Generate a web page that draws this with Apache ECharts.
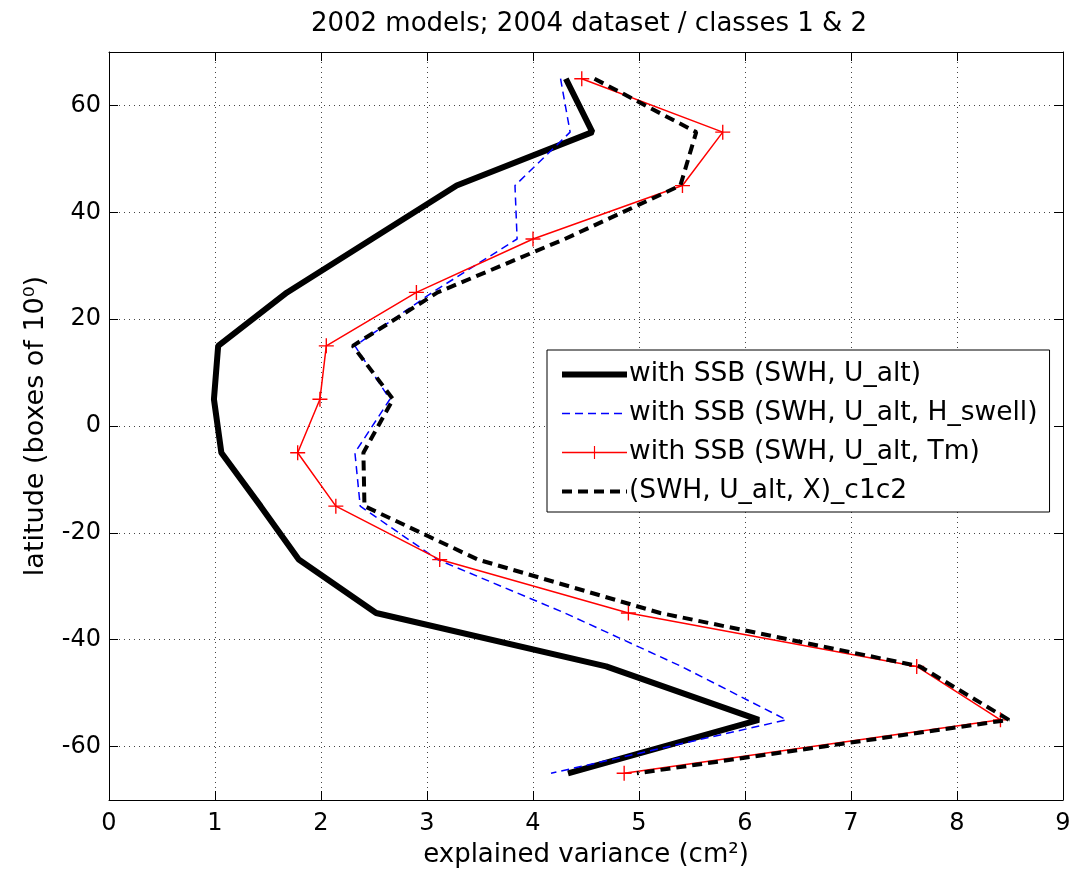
<!DOCTYPE html>
<html>
<head>
<meta charset="utf-8">
<script src="https://cdn.jsdelivr.net/npm/echarts@6/dist/echarts.min.js"></script>
<style>
html,body{margin:0;padding:0;background:#fff;}
#chart{width:1074px;height:885px;}
</style>
</head>
<body>
<div id="chart"></div>
<script>
// latitude box centres (deg)
const latitudes = [65, 55, 45, 35, 25, 15, 5, -5, -15, -25, -35, -45, -55, -65];
// explained variance (cm^2)
const ssbSwhU = [4.31, 4.56, 3.28, 2.48, 1.68, 1.03, 0.99, 1.06, 1.43, 1.79, 2.52, 4.69, 6.13, 4.33];
const ssbSwhUHswell = [4.26, 4.35, 3.83, 3.85, 3.05, 2.32, 2.65, 2.32, 2.37, 3.10, 4.30, 5.40, 6.39, 4.17];
const ssbSwhUTm = [4.46, 5.79, 5.41, 4.00, 2.90, 2.05, 1.99, 1.78, 2.14, 3.12, 4.90, 7.62, 8.41, 4.86];
const swhUXc1c2 = [4.58, 5.54, 5.39, 4.30, 3.10, 2.30, 2.68, 2.40, 2.41, 3.48, 5.20, 7.65, 8.49, 4.98];

const seriesNames = [
  'with SSB (SWH, U_alt)',
  'with SSB (SWH, U_alt, H_swell)',
  'with SSB (SWH, U_alt, Tm)',
  '(SWH, U_alt, X)_c1c2'
];
const titleText = '2002 models; 2004 dataset / classes 1 & 2';
const xName = 'explained variance (cm²)';
const yName = 'latitude (boxes of 10⁰)';

function pairs(vals) { return vals.map((v, i) => [v, latitudes[i]]); }

const FONT = 'DejaVu Sans, sans-serif';
const plusPath = 'path://M-0.9,-10L0.9,-10L0.9,-0.9L10,-0.9L10,0.9L0.9,0.9L0.9,10L-0.9,10L-0.9,0.9L-10,0.9L-10,-0.9L-0.9,-0.9Z';

const styles = [
  {color: '#000', width: 6, type: 'solid'},
  {color: '#0000ff', width: 1.5, type: [8, 5]},
  {color: '#ff0000', width: 1.5, type: 'solid'},
  {color: '#000', width: 4, type: [10, 6]}
];

const chart = echarts.init(document.getElementById('chart'), null, {renderer: 'canvas'});
const axisLine = {show: true, onZero: false, lineStyle: {color: '#000', width: 1}};
const tick = {show: true, inside: true, length: 9, lineStyle: {color: '#000'}};
const gridLine = {show: true, lineStyle: {color: '#444', type: [1, 4], width: 1}};

chart.setOption({
  animation: false,
  backgroundColor: '#fff',
  title: {
    text: titleText, left: 584, top: 6, textAlign: 'center',
    textStyle: {fontFamily: FONT, fontSize: 26, fontWeight: 'normal', color: '#000'}
  },
  grid: {left: 109, right: 11, top: 52, bottom: 85, containLabel: false},
  legend: {
    orient: 'vertical', left: 547, top: 350,
    padding: [11, 12, 7, 12],
    backgroundColor: '#fff', borderColor: '#000', borderWidth: 1,
    itemWidth: 65, itemHeight: 16, itemGap: 12,
    textStyle: {fontFamily: FONT, fontSize: 26.5, color: '#000', padding: [0, 0, 0, -3]},
    data: seriesNames.map((n, i) => ({
      name: n,
      lineStyle: styles[i],
      itemStyle: i === 2 ? {color: '#ff0000'} : {opacity: 0}
    }))
  },
  xAxis: [{
    type: 'value', min: 0, max: 9, interval: 1, position: 'bottom',
    name: xName, nameLocation: 'middle', nameGap: 42,
    nameTextStyle: {fontFamily: FONT, fontSize: 26, color: '#000'},
    axisLine: axisLine, axisTick: tick,
    axisLabel: {fontFamily: FONT, fontSize: 24, color: '#000', margin: 12},
    splitLine: gridLine
  }, {
    type: 'value', min: 0, max: 9, interval: 1, position: 'top',
    axisLine: axisLine, axisTick: tick,
    axisLabel: {show: false}, splitLine: {show: false}
  }],
  yAxis: [{
    type: 'value', min: -70, max: 70, splitNumber: 7, position: 'left',
    name: yName, nameLocation: 'middle', nameGap: 60, nameRotate: 90,
    nameTextStyle: {fontFamily: FONT, fontSize: 27, color: '#000'},
    axisLine: axisLine, axisTick: tick,
    axisLabel: {fontFamily: FONT, fontSize: 24, color: '#000', margin: 8, showMinLabel: false, showMaxLabel: false},
    splitLine: gridLine
  }, {
    type: 'value', min: -70, max: 70, splitNumber: 7, position: 'right',
    axisLine: axisLine, axisTick: tick,
    axisLabel: {show: false}, splitLine: {show: false}
  }],
  series: [{
    name: seriesNames[0], type: 'line', data: pairs(ssbSwhU),
    showSymbol: false, symbol: 'none',
    lineStyle: styles[0], itemStyle: {color: '#000'}, z: 2
  }, {
    name: seriesNames[1], type: 'line', data: pairs(ssbSwhUHswell),
    showSymbol: false, symbol: 'none',
    lineStyle: styles[1], itemStyle: {color: '#0000ff'}, z: 3
  }, {
    name: seriesNames[2], type: 'line', data: pairs(ssbSwhUTm),
    symbol: plusPath, symbolSize: 15,
    lineStyle: styles[2], itemStyle: {color: '#ff0000'}, z: 4
  }, {
    name: seriesNames[3], type: 'line', data: pairs(swhUXc1c2),
    showSymbol: false, symbol: 'none',
    lineStyle: styles[3], itemStyle: {color: '#000'}, z: 5
  }]
});
</script>
</body>
</html>
